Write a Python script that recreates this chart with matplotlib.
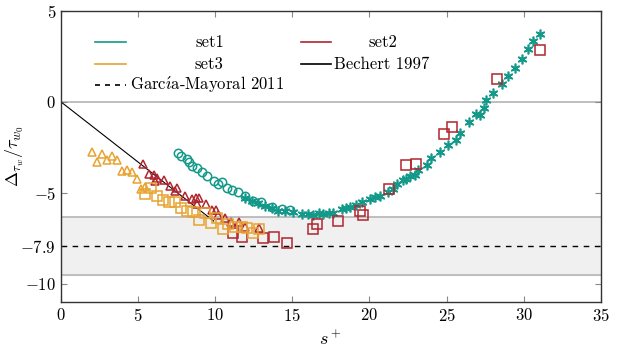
import numpy as np
import matplotlib.pyplot as plt

plt.rcParams["font.family"] = ["cmr10", "DejaVu Serif"]
plt.rcParams["mathtext.fontset"] = "cm"
plt.rcParams["axes.formatter.use_mathtext"] = True
plt.rcParams["font.size"] = 12

# =====================================================
# DATA
# =====================================================

set1_circ_x = [7.56, 7.78, 8.15, 8.30, 8.51, 8.79, 9.12, 9.44, 9.94, 10.20, 10.45, 10.74,
               11.06, 11.49, 11.92, 12.46, 13.00, 13.65, 14.30, 14.84]
set1_circ_y = [-2.82, -2.97, -3.15, -3.33, -3.52, -3.64, -3.88, -4.07, -4.34, -4.52, -4.43, -4.71,
               -4.85, -4.98, -5.16, -5.44, -5.53, -5.77, -5.90, -5.93]

set1_star_x = [11.92, 12.36, 12.80, 13.22, 13.65, 14.08, 14.55, 15.06, 15.60, 16.00, 16.35, 16.70,
               17.00, 17.35, 17.65, 18.19, 18.45, 18.73, 19.10, 19.49, 20.03, 20.35, 20.67, 21.21,
               21.50, 21.76, 22.19, 22.40, 22.62, 22.94, 23.16, 23.70, 24.02, 24.56, 25.10, 25.60,
               25.90, 26.46, 26.90, 27.15, 27.41, 27.54, 28.02, 28.56, 28.99, 29.42, 29.86, 30.29,
               30.61, 31.04]
set1_star_y = [-5.26, -5.44, -5.55, -5.71, -5.85, -5.99, -6.00, -6.03, -6.14, -6.15, -6.21, -6.12,
               -6.14, -6.10, -6.08, -5.90, -5.85, -5.80, -5.65, -5.53, -5.35, -5.25, -5.16, -4.98,
               -4.80, -4.52, -4.30, -4.25, -4.07, -4.01, -3.75, -3.46, -3.06, -2.78, -2.36, -2.10,
               -1.69, -1.08, -0.68, -0.71, -0.31, 0.09, 0.48, 0.97, 1.43, 1.88, 2.35, 2.90,
               3.35, 3.72]

set2_tri_x = [5.29, 5.72, 6.05, 6.20, 6.09, 6.70, 7.06, 7.39, 7.50, 8.04, 8.47, 8.75, 8.96,
              8.79, 9.38, 9.76, 10.05, 10.20, 10.63, 11.02, 11.54, 11.92, 12.85]
set2_tri_y = [-3.42, -3.97, -4.01, -4.16, -4.34, -4.30, -4.62, -4.89, -4.71, -5.16, -5.35, -5.26,
              -5.26, -5.59, -5.59, -5.93, -5.93, -6.21, -6.39, -6.58, -6.58, -6.90, -6.94]

set2_sq_x = [11.13, 11.71, 13.07, 13.80, 14.67, 16.31, 16.61, 17.97, 19.38, 19.55, 21.28,
             22.36, 23.00, 24.82, 25.36, 28.28, 31.04]
set2_sq_y = [-7.23, -7.42, -7.49, -7.45, -7.78, -7.00, -6.69, -6.56, -6.01, -6.23, -4.80,
             -3.46, -3.42, -1.78, -1.36, 1.25, 2.84]

set3_tri_x = [2.03, 2.35, 2.68, 3.00, 3.33, 3.65, 3.93, 4.26, 4.58, 4.90, 5.17, 5.44]
set3_tri_y = [-2.73, -3.28, -2.88, -3.19, -3.00, -3.19, -3.79, -3.75, -3.88, -4.25, -4.80, -4.70]

set3_sq_x = [5.44, 5.81, 6.20, 6.59, 7.00, 7.39, 7.78, 8.15, 8.57, 8.96, 9.33, 9.70, 10.09,
             10.48, 10.84, 11.28, 11.71, 12.03, 12.42, 12.85]
set3_sq_y = [-5.07, -4.71, -5.16, -5.38, -5.48, -5.48, -5.84, -5.99, -6.04, -6.48, -6.08, -6.63,
             -6.39, -6.96, -6.72, -6.90, -6.85, -6.94, -7.18, -6.96]

bechert_x = [0, 9.9]
bechert_y = [0, -6.55]

garcia_level = -7.9
band_lo, band_hi = -9.5, -6.3

TEAL = "#12998a"
RED = "#b0262e"
ORANGE = "#e8a22f"

# =====================================================
# PLOT
# =====================================================

fig = plt.figure(figsize=(6.22, 3.52), dpi=100)
ax = fig.add_axes([0.098, 0.142, 0.868, 0.827])

ax.axhspan(band_lo, band_hi, color="#f0f0f0", zorder=0)
ax.axhline(band_lo, color="#b4b4b4", lw=1.2, zorder=1)
ax.axhline(band_hi, color="#b4b4b4", lw=1.2, zorder=1)
ax.axhline(0, color="#b4b4b4", lw=1.2, zorder=1)
ax.axhline(garcia_level, color="black", ls=(0, (4, 4)), lw=1.0, zorder=2)
ax.plot(bechert_x, bechert_y, color="black", lw=0.8, zorder=2)

ms = 6
ax.plot(set1_circ_x, set1_circ_y, "o", mfc="none", mec=TEAL, ms=ms, mew=1.1, zorder=3)
ax.plot(set1_star_x, set1_star_y, ls="none", marker=(6, 2, 0), color=TEAL, ms=ms + 1, mew=1.2, zorder=3)
ax.plot(set2_tri_x, set2_tri_y, "^", mfc="none", mec=RED, ms=ms, mew=1.1, zorder=3)
ax.plot(set2_sq_x, set2_sq_y, "s", mfc="none", mec=RED, ms=ms + 1, mew=1.1, zorder=3)
ax.plot(set3_tri_x, set3_tri_y, "^", mfc="none", mec=ORANGE, ms=ms, mew=1.1, zorder=3)
ax.plot(set3_sq_x, set3_sq_y, "s", mfc="none", mec=ORANGE, ms=ms + 1, mew=1.1, zorder=3)

ax.set_xlim(0, 35)
ax.set_ylim(-11, 5)
ax.set_xticks([0, 5, 10, 15, 20, 25, 30, 35])
ax.set_yticks([5, 0, -5, -7.9, -10])
ax.set_yticklabels(["$5$", "$0$", "$-5$", "$-7.9$", "$-10$"])
ax.set_xticklabels([f"${v}$" for v in [0, 5, 10, 15, 20, 25, 30, 35]])
ax.tick_params(direction="in", top=True, right=True, length=4, color="#888888", labelsize=12)
for s in ax.spines.values():
    s.set_color("#333333")
    s.set_linewidth(1.0)

ax.set_xlabel("$s^+$", fontsize=13)
ax.set_ylabel(r"$\Delta_{\tau_w}/\tau_{w_0}$", fontsize=13)
ax.yaxis.set_label_coords(-0.065, 0.5)

# legend (laid out by hand, labels centred like the original)
tr = ax.transAxes
def leg_line(x0, y, color, ls="-"):
    ax.plot([x0, x0 + 0.057], [y, y], color=color, ls=ls, lw=1.2, transform=tr, clip_on=False)

rows = [0.893, 0.818, 0.745]
leg_line(0.063, rows[0], TEAL)
ax.text(0.275, rows[0], "set1", transform=tr, ha="center", va="center")
leg_line(0.444, rows[0], RED)
ax.text(0.596, rows[0], "set2", transform=tr, ha="center", va="center")
leg_line(0.063, rows[1], ORANGE)
ax.text(0.275, rows[1], "set3", transform=tr, ha="center", va="center")
leg_line(0.444, rows[1], "black")
ax.text(0.505, rows[1], "Bechert 1997", transform=tr, ha="left", va="center")
leg_line(0.063, rows[2], "black", ls=(0, (3, 3)))
ax.text(0.128, rows[2], r"Garc$\mathrm{\acute{\imath}}$a-Mayoral 2011", transform=tr,
        ha="left", va="center")

fig.savefig("out.png", dpi=100)
